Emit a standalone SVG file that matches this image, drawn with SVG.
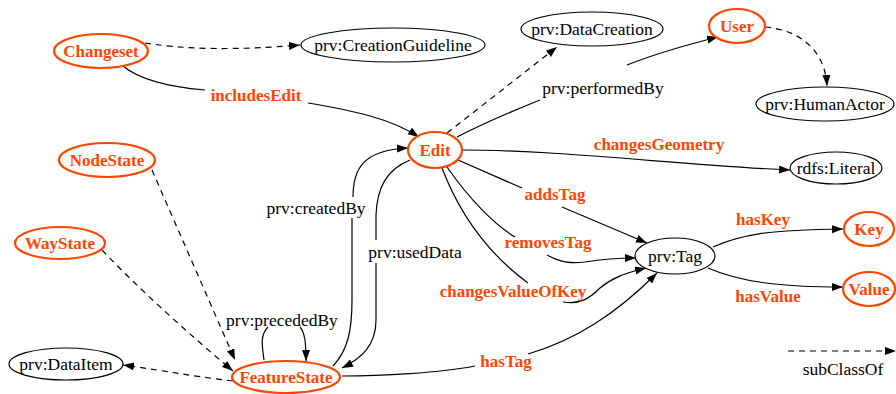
<svg xmlns="http://www.w3.org/2000/svg" width="896" height="394" viewBox="0 0 896 394">
<style>
.cls ellipse{fill:#fff;stroke:#ff4500;stroke-width:2.2}
.ext ellipse{fill:#fff;stroke:#000;stroke-width:1.2}
text{font-family:'Liberation Serif','DejaVu Serif',serif}
.cls text{font-weight:bold;font-size:17px;fill:#ff4500;text-anchor:middle}
.ext text{font-size:17.5px;fill:#000;text-anchor:middle}
.e{fill:none;stroke:#000;stroke-width:1.2}
.d{stroke-dasharray:6,5}
.lr{font-weight:bold;font-size:17px;fill:#ff4500;text-anchor:middle}
.lb{font-size:17.5px;fill:#000;text-anchor:middle}
</style>
<defs>
<marker id="ah" markerUnits="userSpaceOnUse" markerWidth="12" markerHeight="10" refX="11" refY="4" orient="auto">
<path d="M0,0 L11,4 L0,8 z" fill="#000"/>
</marker>
</defs>
<rect width="896" height="394" fill="#fff"/>
<g id="connectors">
<path class="e d" d="M145,43 C190,50 240,50 300,45" marker-end="url(#ah)"/>
<path class="e" d="M123,66 C140,80 170,87 205,90"/>
<path class="e" d="M308,103 C350,110 390,118 419,137" marker-end="url(#ah)"/>
<path class="e d" d="M447,133 L557,47" marker-end="url(#ah)"/>
<path class="e" d="M457,137 C490,120 515,110 540,100"/>
<path class="e" d="M627,65 C660,52 690,44 718,37" marker-end="url(#ah)"/>
<path class="e d" d="M765,27 C800,30 825,50 827,86" marker-end="url(#ah)"/>
<path class="e" d="M462,150 C560,150 680,165 790,170" marker-end="url(#ah)"/>
<path class="e" d="M458,160 L522,188"/>
<path class="e" d="M562,207 L647,243" marker-end="url(#ah)"/>
<path class="e" d="M447,167 C470,200 495,225 515,237"/>
<path class="e" d="M547,255 C560,262 570,264 585,262 C603,259 615,258 636,258" marker-end="url(#ah)"/>
<path class="e" d="M442,168 C460,215 490,255 528,283"/>
<path class="e" d="M563,302 C580,305 590,298 600,288 C612,278 625,273 646,268" marker-end="url(#ah)"/>
<path class="e" d="M342,376 C380,376 440,373 475,366"/>
<path class="e" d="M528,354 C575,340 615,315 657,273" marker-end="url(#ah)"/>
<path class="e" d="M713,247 C740,235 765,230 843,229" marker-end="url(#ah)"/>
<path class="e" d="M708,268 C740,282 780,287 843,287" marker-end="url(#ah)"/>
<path class="e d" d="M152,170 L235,360" marker-end="url(#ah)"/>
<path class="e d" d="M102,250 C140,290 190,335 233,371" marker-end="url(#ah)"/>
<path class="e d" d="M233,381 C190,376 160,370 123,365" marker-end="url(#ah)"/>
<path class="e" d="M264,360 C262,345 260,335 268,327"/>
<path class="e" d="M300,327 C305,333 306,343 306,361" marker-end="url(#ah)"/>
<path class="e" d="M333,366 C348,350 352,330 352,300 L352,218"/>
<path class="e" d="M353,197 C353,170 362,150 408,148" marker-end="url(#ah)"/>
<path class="e" d="M410,160 C385,170 377,190 376,215 L376,240"/>
<path class="e" d="M376,263 L376,320 C376,345 362,358 342,368" marker-end="url(#ah)"/>
<path class="e d" d="M788,351 L896,351" marker-end="url(#ah)"/>
<text class="lr" x="256" y="101">includesEdit</text>
<text class="lb" x="603" y="94">prv:performedBy</text>
<text class="lr" x="659" y="150">changesGeometry</text>
<text class="lr" x="555" y="200">addsTag</text>
<text class="lr" x="548" y="248">removesTag</text>
<text class="lr" x="513" y="297">changesValueOfKey</text>
<text class="lr" x="506" y="367">hasTag</text>
<text class="lr" x="763" y="225">hasKey</text>
<text class="lr" x="768" y="302">hasValue</text>
<text class="lb" x="282" y="326">prv:precededBy</text>
<text class="lb" x="316" y="214">prv:createdBy</text>
<text class="lb" x="415" y="258">prv:usedData</text>
<text class="lb" x="843" y="375">subClassOf</text>
</g>
<g id="Changeset" class="cls"><ellipse cx="101" cy="51" rx="47" ry="17"/><text x="101" y="57">Changeset</text></g>
<g id="CreationGuideline" class="ext"><ellipse cx="393" cy="45" rx="92" ry="17"/><text x="393" y="51">prv:CreationGuideline</text></g>
<g id="DataCreation" class="ext"><ellipse cx="592" cy="29" rx="71" ry="17"/><text x="592" y="35">prv:DataCreation</text></g>
<g id="User" class="cls"><ellipse cx="737" cy="26" rx="28" ry="17"/><text x="737" y="32">User</text></g>
<g id="HumanActor" class="ext"><ellipse cx="825" cy="104" rx="69" ry="17"/><text x="825" y="110">prv:HumanActor</text></g>
<g id="Literal" class="ext"><ellipse cx="836" cy="168" rx="46" ry="16"/><text x="836" y="174">rdfs:Literal</text></g>
<g id="Edit" class="cls"><ellipse cx="435" cy="150" rx="27" ry="18"/><text x="435" y="156">Edit</text></g>
<g id="NodeState" class="cls"><ellipse cx="107" cy="160" rx="48" ry="17"/><text x="107" y="166">NodeState</text></g>
<g id="WayState" class="cls"><ellipse cx="60" cy="243" rx="45" ry="16"/><text x="60" y="249">WayState</text></g>
<g id="DataItem" class="ext"><ellipse cx="66" cy="364" rx="57" ry="16"/><text x="66" y="370">prv:DataItem</text></g>
<g id="FeatureState" class="cls"><ellipse cx="286" cy="377" rx="54" ry="16"/><text x="286" y="383">FeatureState</text></g>
<g id="Tag" class="ext"><ellipse cx="675" cy="256" rx="40" ry="18"/><text x="675" y="262">prv:Tag</text></g>
<g id="Key" class="cls"><ellipse cx="869" cy="229" rx="25" ry="17"/><text x="869" y="235">Key</text></g>
<g id="Value" class="cls"><ellipse cx="869" cy="289" rx="26" ry="17"/><text x="869" y="295">Value</text></g>
</svg>
